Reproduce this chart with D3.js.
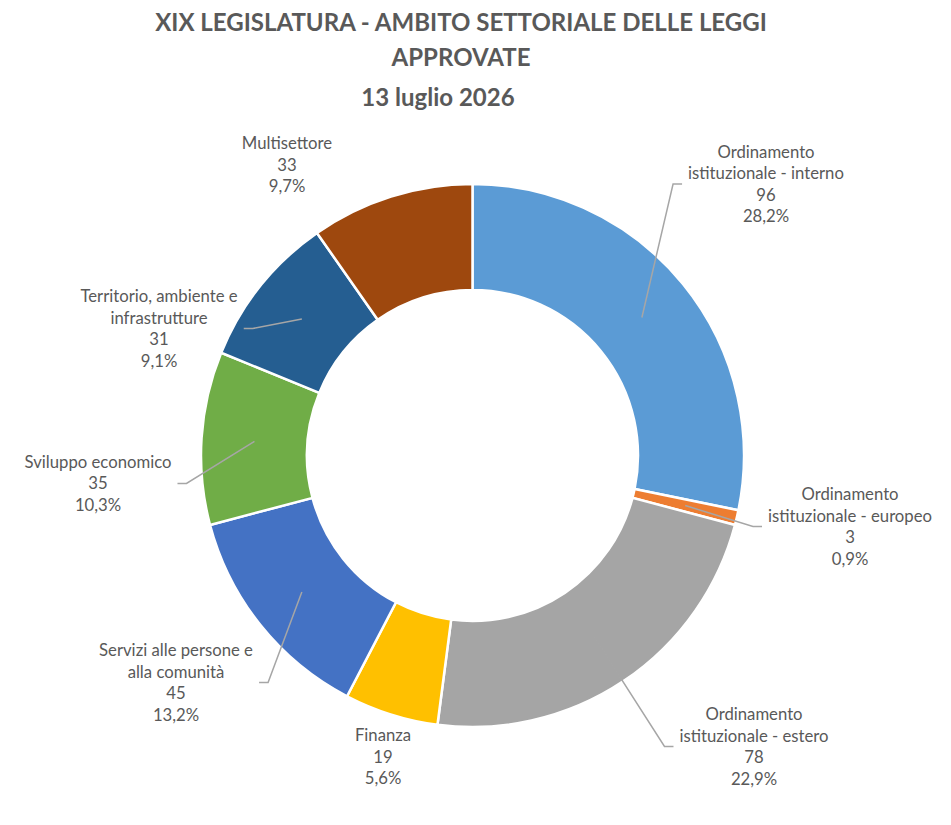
<!DOCTYPE html>
<html>
<head>
<meta charset="utf-8">
<script src="https://cdn.jsdelivr.net/npm/d3@7"></script>
<style>
  html, body { margin: 0; padding: 0; background: #ffffff; }
  svg { display: block; }
</style>
</head>
<body>
<svg id="chart" width="951" height="825"></svg>
<script>
// ---- DATA ----
const categories = [
  "Ordinamento istituzionale - interno",
  "Ordinamento istituzionale - europeo",
  "Ordinamento istituzionale - estero",
  "Finanza",
  "Servizi alle persone e alla comunità",
  "Sviluppo economico",
  "Territorio, ambiente e infrastrutture",
  "Multisettore"
];
const labelLines = [
  ["Ordinamento", "istituzionale - interno"],
  ["Ordinamento", "istituzionale - europeo"],
  ["Ordinamento", "istituzionale - estero"],
  ["Finanza"],
  ["Servizi alle persone e", "alla comunità"],
  ["Sviluppo economico"],
  ["Territorio, ambiente e", "infrastrutture"],
  ["Multisettore"]
];
const values = [96, 3, 78, 19, 45, 35, 31, 33];
const titleLines = ["XIX LEGISLATURA - AMBITO SETTORIALE DELLE LEGGI", "APPROVATE"];
const subtitle = "13 luglio 2026";

// ---- LAYOUT / STYLE ----
const colors = ["#5B9BD5", "#ED7D31", "#A5A5A5", "#FFC000", "#4472C4", "#70AD47", "#255E91", "#9E480E"];
// label block centre positions and leader side (1 = label right of line, -1 = left, 0 = no line)
const labelLayout = [
  { x: 766, y: 184, side: 1 },
  { x: 850, y: 526.5, side: 1 },
  { x: 754, y: 746.5, side: 1 },
  { x: 383, y: 757, side: 0 },
  { x: 176, y: 682.5, side: -1 },
  { x: 98, y: 483.5, side: -1 },
  { x: 159, y: 328.5, side: -1 },
  { x: 287, y: 165, side: 0 }
];
const cx = 472.5, cy = 455.5, outerR = 271.5, innerR = 165.5;
const textColor = "#595959";
const fontFamily = "Lato, 'Noto Sans', sans-serif";
const lineH = 21.5;

const svg = d3.select("#chart");

// helper: fit font size to a target width
function fitSize(text, weight, targetW, base) {
  const t = svg.append("text").attr("font-family", fontFamily).attr("font-weight", weight)
    .attr("font-size", base).text(text);
  const w = t.node().getComputedTextLength();
  t.remove();
  return base * targetW / w;
}

// ---- TITLE ----
const titleSize = fitSize(titleLines[0], "bold", 612, 24);
svg.append("text")
  .attr("x", 461).attr("y", 31)
  .attr("text-anchor", "middle")
  .attr("font-family", fontFamily).attr("font-weight", "bold")
  .attr("font-size", titleSize).attr("fill", textColor)
  .text(titleLines[0]);
svg.append("text")
  .attr("x", 461).attr("y", 66)
  .attr("text-anchor", "middle")
  .attr("font-family", fontFamily).attr("font-weight", "bold")
  .attr("font-size", titleSize).attr("fill", textColor)
  .text(titleLines[1]);
svg.append("text")
  .attr("x", 438).attr("y", 106)
  .attr("text-anchor", "middle")
  .attr("font-family", fontFamily).attr("font-weight", "bold")
  .attr("font-size", titleSize).attr("fill", textColor)
  .text(subtitle);

// ---- PIE ----
const total = d3.sum(values);
const pie = d3.pie().sort(null).value(d => d)(values);
const arc = d3.arc().innerRadius(innerR).outerRadius(outerR);
const midArc = d3.arc().innerRadius((innerR + outerR) / 2).outerRadius((innerR + outerR) / 2);

const g = svg.append("g").attr("transform", `translate(${cx},${cy})`);
g.selectAll("path.slice")
  .data(pie)
  .join("path")
  .attr("class", "slice")
  .attr("d", arc)
  .attr("fill", (d, i) => colors[i])
  .attr("stroke", "#ffffff")
  .attr("stroke-width", 2.5)
  .attr("stroke-linejoin", "miter");

// ---- LABELS ----
const labelSize = fitSize("istituzionale - interno", "normal", 156, 16);
const fmtPct = v => (v / total * 100).toFixed(1).replace(".", ",") + "%";

const leaderG = svg.append("g");
const labelG = svg.append("g");

pie.forEach((d, i) => {
  const lay = labelLayout[i];
  const lines = labelLines[i].concat([String(values[i]), fmtPct(values[i])]);
  const n = lines.length;
  const top = lay.y - (n - 1) * lineH / 2;
  const t = labelG.append("text")
    .attr("text-anchor", "middle")
    .attr("font-family", fontFamily)
    .attr("font-size", labelSize)
    .attr("fill", textColor);
  lines.forEach((ln, k) => {
    t.append("tspan").attr("x", lay.x).attr("y", top + k * lineH).attr("dy", "0.35em").text(ln);
  });
  if (lay.side !== 0) {
    const bb = t.node().getBBox();
    const c = midArc.centroid(d);
    const sx = cx + c[0], sy = cy + c[1];
    const endX = lay.side > 0 ? bb.x - 6 : bb.x + bb.width + 6;
    const elbowX = endX - lay.side * 9;
    leaderG.append("polyline")
      .attr("points", `${sx},${sy} ${elbowX},${lay.y} ${endX},${lay.y}`)
      .attr("fill", "none")
      .attr("stroke", "#A6A6A6")
      .attr("stroke-width", 1.5);
  }
});
</script>
</body>
</html>
